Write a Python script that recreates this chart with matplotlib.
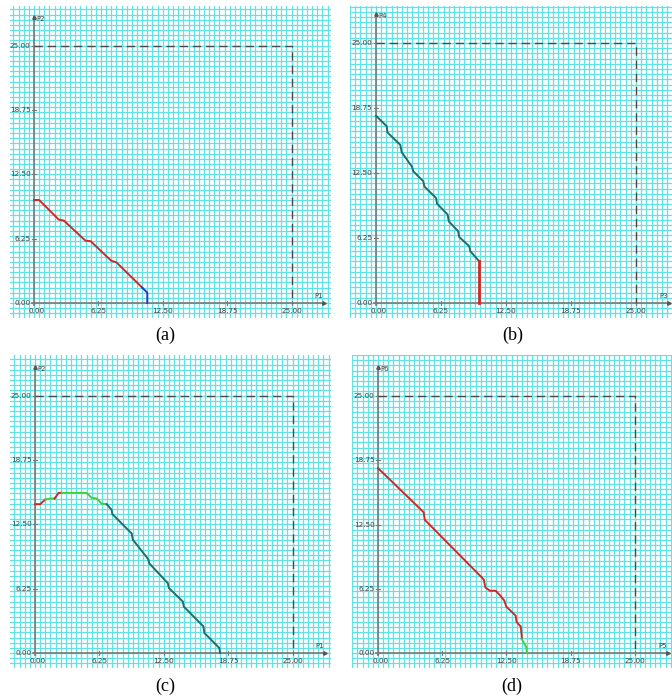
import matplotlib
matplotlib.use('Agg')
import matplotlib.pyplot as plt
import numpy as np

W, H = 672, 698

TICKS = [0.00, 6.25, 12.50, 18.75, 25.00]
TICK_LABELS = ['0.00', '6.25', '12.50', '18.75', '25.00']
BOUND = 25.0

# panel (a): P1 vs P2
a_red_x = [0.0, 0.5, 2.4, 2.9, 5.0, 5.5, 7.5, 8.0, 10.5]
a_red_y = [10.0, 10.0, 8.1, 8.0, 6.05, 6.0, 4.1, 3.95, 1.5]
a_blue_x = [10.5, 11.0, 11.0]
a_blue_y = [1.5, 1.0, 0.0]

# panel (b): P3 vs P4
b_teal_x = [0.0, 1.03, 1.1, 2.34, 2.47, 3.46, 3.59, 4.55, 4.65, 5.77, 5.87,
            6.89, 7.0, 7.9, 8.0, 8.97, 9.07, 9.94]
b_teal_y = [18.0, 17.0, 16.4, 15.2, 14.5, 13.1, 12.66, 11.7, 11.2, 10.1, 9.55,
            8.5, 7.85, 6.9, 6.35, 5.45, 4.97, 4.0]
b_red_x = [9.94, 9.94]
b_red_y = [4.0, 0.0]

# panel (c): P1 vs P2
c_red1_x = [0.0, 0.5, 1.0]
c_red1_y = [14.45, 14.45, 14.9]
c_green1_x = [1.0, 1.5, 1.9]
c_green1_y = [14.9, 15.0, 15.0]
c_red2_x = [1.9, 2.3, 2.6]
c_red2_y = [15.0, 15.55, 15.55]
c_green2_x = [2.6, 5.0, 5.5, 6.0, 6.47, 6.96]
c_green2_y = [15.55, 15.55, 15.06, 15.0, 14.5, 14.45]
c_teal_x = [6.96, 7.44, 7.5, 9.39, 9.5, 11.0, 11.1, 12.9, 13.0, 14.35, 14.45,
            16.35, 16.45, 17.9, 17.97]
c_teal_y = [14.45, 13.9, 13.5, 11.6, 11.0, 9.1, 8.7, 6.77, 6.3, 5.0, 4.5,
            2.58, 1.94, 0.48, 0.0]

# panel (d): P5 vs P6
d_red_x = [0.0, 4.45, 4.55, 10.3, 10.45, 10.9, 11.46, 11.85, 12.3, 12.5, 13.4,
           13.5, 13.9, 14.0, 14.0]
d_red_y = [18.0, 13.7, 12.97, 7.16, 6.39, 6.06, 6.06, 5.65, 5.1, 4.5, 3.65,
           3.0, 2.58, 1.6, 1.35]
d_green_x = [14.0, 14.45, 14.5]
d_green_y = [1.35, 0.55, 0.0]

RED = '#d02828'
BLUE = '#2238d8'
TEAL = '#1e6e6a'
GREEN = '#3ed23e'

fig = plt.figure(figsize=(W / 100, H / 100), dpi=100)
fig.patch.set_facecolor('white')


def make_panel(rect, origin, scale, xname, yname, caption, cap_xy):
    left, top, right, bottom = rect
    ox, oy = origin
    ax = fig.add_axes([left / W, 1 - bottom / H, (right - left) / W, (bottom - top) / H])
    for s in ax.spines.values():
        s.set_visible(False)
    ax.set_xticks(np.arange(-5, 35, 0.5))
    ax.set_yticks(np.arange(-5, 35, 0.5))
    ax.tick_params(length=0, labelbottom=False, labelleft=False)
    ax.grid(True, color='#62e2e2', linewidth=0.9)
    ax.set_axisbelow(True)
    # limits after ticks, else set_ticks widens them
    ax.set_xlim((left - ox) / scale, (right - ox) / scale)
    ax.set_ylim((oy - bottom) / scale, (oy - top) / scale)

    # coordinate axes
    ax.plot([-0.2, 28.2], [0, 0], color='#7a7a7a', lw=1.2, zorder=3)
    ax.plot([0, 0], [-0.2, 27.8], color='#7a7a7a', lw=1.2, zorder=3)
    ax.plot([28.2], [0], marker='>', ms=2.5, color='#555555', zorder=3)
    ax.plot([0], [27.8], marker='^', ms=2.5, color='#555555', zorder=3)
    ax.text(0.25, 27.9, yname, fontsize=5, color='#444444', va='top', ha='left')
    ax.text(28.1, 0.35, xname, fontsize=5, color='#444444', va='bottom', ha='right')

    for t, lab in zip(TICKS, TICK_LABELS):
        ax.text(t + (0.25 if t == 0 else 0), -0.45, lab, fontsize=5.2, color='#444444',
                ha='center', va='top')
        ax.text(-0.35, t, lab, fontsize=5.2, color='#444444', ha='right', va='center')
        ax.plot([t, t], [-0.15, 0.15], color='#7a7a7a', lw=0.8)
        ax.plot([-0.15, 0.15], [t, t], color='#7a7a7a', lw=0.8)

    # bounding box
    ax.plot([0, BOUND, BOUND], [BOUND, BOUND, 0], color='#4a4a4a', lw=1.0,
            dashes=(6, 3.5), zorder=3)

    fig.text(cap_xy[0] / W, 1 - cap_xy[1] / H, caption, fontsize=13,
             family='Liberation Serif', ha='center', va='center')
    return ax


ax_a = make_panel((10, 6, 331, 318), (34, 303), 10.3, 'P1', 'P2', '(a)', (165, 335))
ax_a.plot(a_red_x, a_red_y, color=RED, lw=1.4, zorder=4)
ax_a.plot(a_blue_x, a_blue_y, color=BLUE, lw=1.4, zorder=4)

ax_b = make_panel((350, 6, 672, 318), (376, 303), 10.4, 'P3', 'P4', '(b)', (513, 335))
ax_b.plot(b_teal_x, b_teal_y, color=TEAL, lw=1.4, zorder=4)
ax_b.plot(b_red_x, b_red_y, color=RED, lw=2.0, zorder=4)

ax_c = make_panel((10, 355, 331, 668), (35, 653), 10.3, 'P1', 'P2', '(c)', (165, 686))
ax_c.plot(c_red1_x, c_red1_y, color=RED, lw=1.4, zorder=4)
ax_c.plot(c_green1_x, c_green1_y, color=GREEN, lw=1.4, zorder=4)
ax_c.plot(c_red2_x, c_red2_y, color=RED, lw=1.4, zorder=4)
ax_c.plot(c_green2_x, c_green2_y, color=GREEN, lw=1.4, zorder=4)
ax_c.plot(c_teal_x, c_teal_y, color=TEAL, lw=1.4, zorder=4)

ax_d = make_panel((352, 355, 672, 668), (378, 653), 10.27, 'P5', 'P6', '(d)', (512, 686))
ax_d.plot(d_red_x, d_red_y, color=RED, lw=1.4, zorder=4)
ax_d.plot(d_green_x, d_green_y, color=GREEN, lw=1.4, zorder=4)

plt.savefig('out.png', dpi=100)
